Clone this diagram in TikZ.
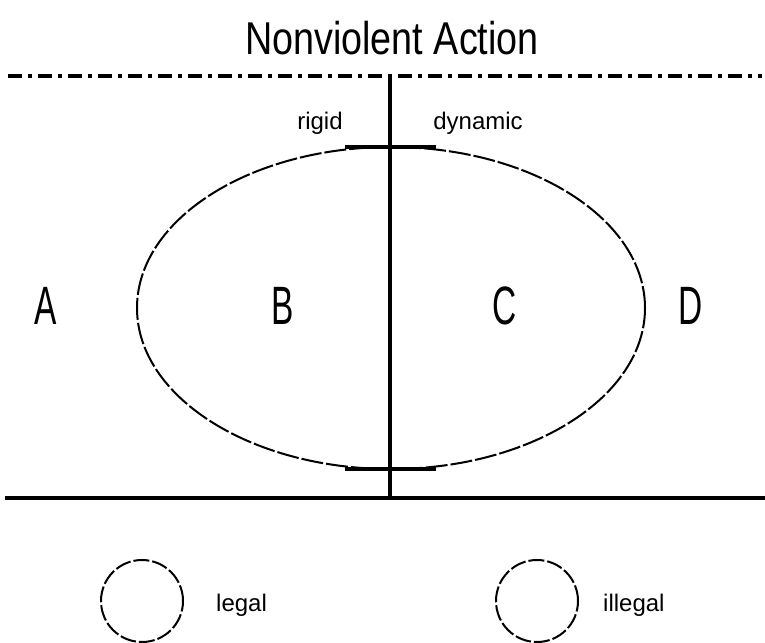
\documentclass[tikz,border=0pt]{standalone}
\usepackage{fontspec}
\setmainfont{Liberation Sans}
\usetikzlibrary{shapes.geometric}
\newcommand{\narrowtext}[1]{\scalebox{0.62}[1]{#1}}
\begin{document}
\begin{tikzpicture}[x=1pt,y=-1pt,
  thickline/.style={line width=3.5pt},
  dashline/.style={line width=3.5pt, dash pattern=on 14pt off 6pt on 4pt off 6pt},
  ovalline/.style={line width=2pt, dash pattern=on 22pt off 3pt},
  lbl/.style={inner sep=0pt, font=\fontsize{54}{54}\selectfont},
  small/.style={inner sep=0pt, font=\fontsize{24}{24}\selectfont},
  legendcircle/.style={draw, circle, line width=2pt, dash pattern=on 16pt off 3pt, minimum size=82pt, inner sep=0pt}]
\useasboundingbox (0,0) rectangle (765,642);
% title
\node[inner sep=0pt, font=\fontsize{46}{46}\selectfont] (title) at (392,38) {\scalebox{0.82}[1]{Nonviolent Action}};
% top dashed line
\coordinate (tl) at (8,76);
\coordinate (tr) at (762,76);
\draw[dashline] (tl) -- (tr);
% vertical and bottom lines
\coordinate (vtop) at (390,74);
\coordinate (vbot) at (390,499);
\coordinate (bl) at (5,498);
\coordinate (br) at (765,498);
\draw[thickline] (vtop) -- (vbot);
\draw[thickline] (bl) -- (br);
% ellipse
\node[draw, ellipse, ovalline, minimum width=508pt, minimum height=322pt, inner sep=0pt] (oval) at (391,308) {};
\coordinate (ttl) at (345,147);
\coordinate (ttr) at (436,147);
\coordinate (btl) at (345,469);
\coordinate (btr) at (436,469);
\draw[line width=3.5pt] (ttl) -- (ttr);
\draw[line width=3.5pt] (btl) -- (btr);
% labels
\node[small] (rigid) at (320,123) {rigid};
\node[small] (dyn) at (478,123) {dynamic};
\node[lbl] (A) at (46,306) {\narrowtext{A}};
\node[lbl] (B) at (283,306) {\narrowtext{B}};
\node[lbl] (C) at (505,306) {\narrowtext{C}};
\node[lbl] (D) at (691,306) {\narrowtext{D}};
% legend
\node[legendcircle] (c1) at (142,601) {};
\node[legendcircle] (c2) at (537,601) {};
\node[small, anchor=west] (legal) at (216,605) {legal};
\node[small, anchor=west] (illegal) at (603,605) {illegal};
\end{tikzpicture}
\end{document}
